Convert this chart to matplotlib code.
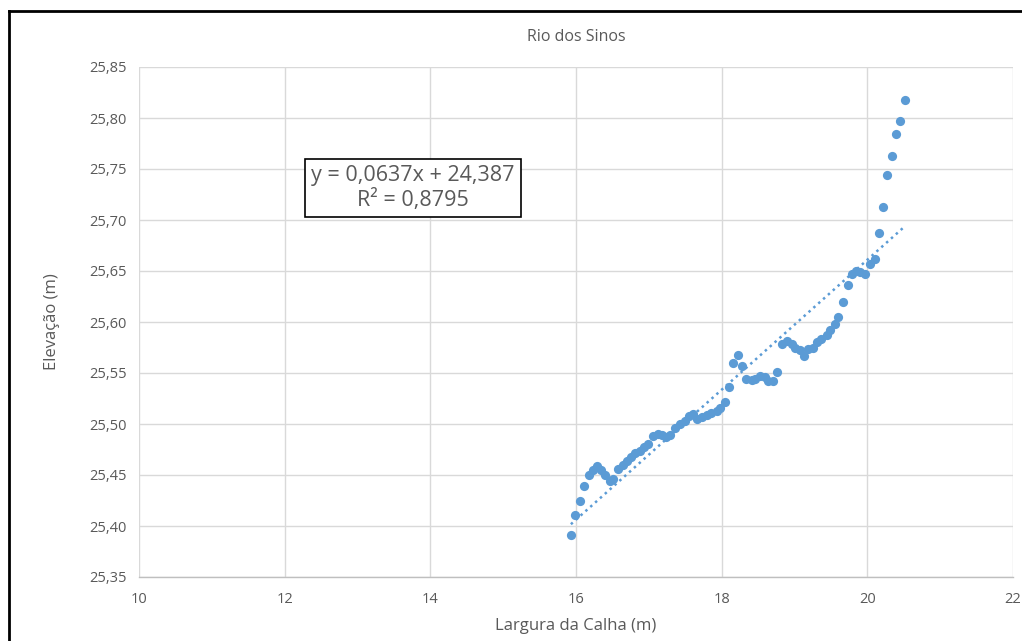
import matplotlib
matplotlib.use("Agg")
import matplotlib.pyplot as plt
from matplotlib.lines import Line2D
from matplotlib.ticker import FuncFormatter

# Channel width (m) and elevation (m) measured along the Rio dos Sinos
largura = [15.93, 15.99, 16.06, 16.11, 16.18, 16.24, 16.29, 16.35, 16.40, 16.46,
           16.51, 16.58, 16.65, 16.70, 16.76, 16.81, 16.88, 16.94, 16.99, 17.06,
           17.13, 17.18, 17.24, 17.29, 17.36, 17.43, 17.49, 17.55, 17.61, 17.66,
           17.73, 17.80, 17.86, 17.93, 17.98, 18.04, 18.10, 18.16, 18.23, 18.28,
           18.34, 18.41, 18.46, 18.53, 18.59, 18.64, 18.71, 18.76, 18.83, 18.90,
           18.96, 19.01, 19.08, 19.13, 19.19, 19.26, 19.31, 19.37, 19.44, 19.49,
           19.55, 19.60, 19.67, 19.73, 19.79, 19.85, 19.90, 19.97, 20.03, 20.10,
           20.16, 20.22, 20.27, 20.34, 20.40, 20.45, 20.52]
elevacao = [25.391, 25.411, 25.425, 25.439, 25.450, 25.455, 25.459, 25.455, 25.450, 25.444,
            25.446, 25.456, 25.460, 25.464, 25.468, 25.472, 25.474, 25.477, 25.480, 25.488,
            25.490, 25.489, 25.487, 25.489, 25.496, 25.500, 25.503, 25.508, 25.510, 25.505,
            25.507, 25.509, 25.511, 25.513, 25.516, 25.522, 25.536, 25.560, 25.568, 25.557,
            25.544, 25.543, 25.544, 25.547, 25.546, 25.542, 25.542, 25.551, 25.578, 25.581,
            25.578, 25.575, 25.573, 25.567, 25.574, 25.575, 25.580, 25.583, 25.587, 25.592,
            25.598, 25.605, 25.620, 25.636, 25.647, 25.650, 25.649, 25.647, 25.657, 25.662,
            25.687, 25.713, 25.744, 25.763, 25.784, 25.797, 25.818]

# Linear trend line coefficients
inclinacao = 0.0637
intercepto = 24.387
r2 = 0.8795

x_ticks = [10, 12, 14, 16, 18, 20, 22]
y_ticks = [25.35, 25.40, 25.45, 25.50, 25.55, 25.60, 25.65, 25.70, 25.75, 25.80, 25.85]

azul = "#5B9BD5"
cinza_texto = "#595959"
cinza_grade = "#D9D9D9"

plt.rcParams["font.family"] = ["Open Sans", "DejaVu Sans"]

fig = plt.figure(figsize=(10.22, 6.41), dpi=100)
ax = fig.add_axes([139 / 1022, 1 - 577 / 641, (1013 - 139) / 1022, (577 - 67) / 641])

ax.scatter(largura, elevacao, s=44, color=azul, zorder=3, linewidths=0)

x0, x1 = min(largura), max(largura)
ax.plot([x0, x1], [inclinacao * x0 + intercepto, inclinacao * x1 + intercepto],
        color=azul, linestyle=(0, (1, 1.6)), linewidth=1.8, zorder=2)

ax.set_xlim(10, 22)
ax.set_ylim(25.35, 25.85)
ax.set_xticks(x_ticks)
ax.set_yticks(y_ticks)
ax.xaxis.set_major_formatter(FuncFormatter(lambda v, p: f"{v:.0f}"))
ax.yaxis.set_major_formatter(FuncFormatter(lambda v, p: f"{v:.2f}".replace(".", ",")))
ax.tick_params(axis="both", length=0, labelsize=10.5, colors=cinza_texto, pad=9)
ax.tick_params(axis="x", pad=11)

ax.grid(True, color=cinza_grade, linewidth=1)
ax.set_axisbelow(True)
for lado in ["top", "right", "left"]:
    ax.spines[lado].set_visible(False)
ax.spines["bottom"].set_color("#BFBFBF")
ax.spines["bottom"].set_linewidth(1)

ax.set_title("Rio dos Sinos", fontsize=11.5, color=cinza_texto, pad=19)
ax.set_xlabel("Largura da Calha (m)", fontsize=12, color=cinza_texto, labelpad=8)
ax.set_ylabel("Elevação (m)", fontsize=12, color=cinza_texto, labelpad=21)

ax.text(413 / 1022, 1 - 188 / 641,
        f"y = {inclinacao:.4f}x + {intercepto:.3f}".replace(".", ",") + "\n" +
        f"R² = {r2:.4f}".replace(".", ","),
        transform=fig.transFigure, ha="center", va="center", fontsize=15.5,
        color=cinza_texto, linespacing=1.2,
        bbox=dict(boxstyle="square,pad=0.28", facecolor="white", edgecolor="black", linewidth=1.2))

# Chart frame along the left and top edges
fig.add_artist(Line2D([9 / 1022, 9 / 1022], [0, 1 - 11 / 641], color="black", linewidth=2,
                      transform=fig.transFigure))
fig.add_artist(Line2D([9 / 1022, 1], [1 - 11 / 641, 1 - 11 / 641], color="black", linewidth=2,
                      transform=fig.transFigure))

fig.savefig("out.png", dpi=100)
